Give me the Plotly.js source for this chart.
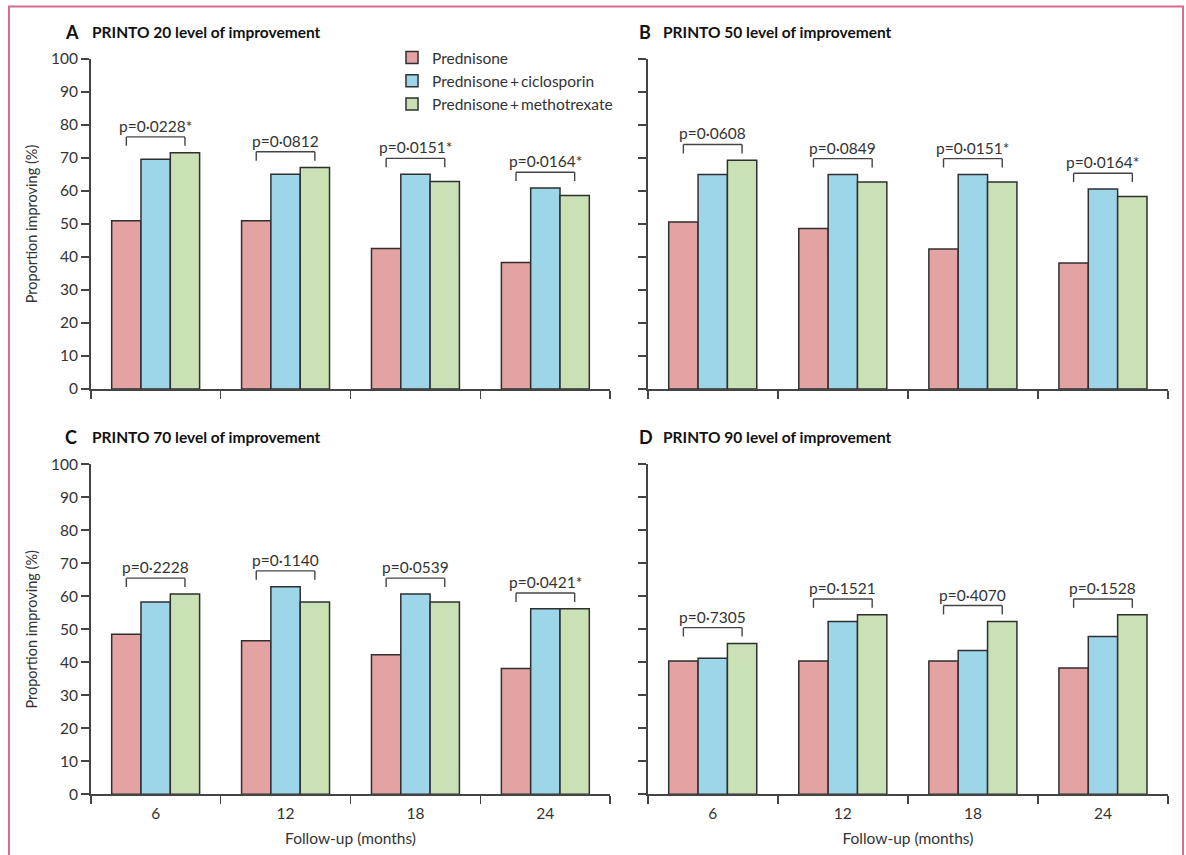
<!DOCTYPE html>
<html>
<head>
<meta charset="utf-8">
<script src="https://cdn.plot.ly/plotly-3.0.1.min.js"></script>
<style>html,body{margin:0;padding:0;background:#fff;}#chart{width:1186px;height:855px;}</style>
</head>
<body>
<div id="chart"></div>
<script>
// ---------- data ----------
const months = ['6', '12', '18', '24'];
const seriesNames = ['Prednisone', 'Prednisone\u2009+\u2009ciclosporin', 'Prednisone\u2009+\u2009methotrexate'];
const seriesColors = ['#e3a3a2', '#9ed6e9', '#c9e1b5'];

const panelLetters = ['A', 'B', 'C', 'D'];
const panelTitles = ['PRINTO 20 level of improvement', 'PRINTO 50 level of improvement',
                     'PRINTO 70 level of improvement', 'PRINTO 90 level of improvement'];

const A_prednisone   = [51.0, 51.0, 42.6, 38.3];
const A_ciclosporin  = [69.6, 65.1, 65.1, 60.9];
const A_methotrexate = [71.6, 67.1, 62.9, 58.6];
const A_pvalues = ['p=0·0228*', 'p=0·0812', 'p=0·0151*', 'p=0·0164*'];

const B_prednisone   = [50.6, 48.6, 42.4, 38.2];
const B_ciclosporin  = [65.0, 65.0, 65.0, 60.6];
const B_methotrexate = [69.3, 62.7, 62.7, 58.3];
const B_pvalues = ['p=0·0608', 'p=0·0849', 'p=0·0151*', 'p=0·0164*'];

const C_prednisone   = [48.5, 46.5, 42.3, 38.1];
const C_ciclosporin  = [58.3, 62.9, 60.7, 56.2];
const C_methotrexate = [60.7, 58.3, 58.3, 56.2];
const C_pvalues = ['p=0·2228', 'p=0·1140', 'p=0·0539', 'p=0·0421*'];

const D_prednisone   = [40.4, 40.4, 40.4, 38.3];
const D_ciclosporin  = [41.2, 52.4, 43.6, 47.8];
const D_methotrexate = [45.7, 54.4, 52.4, 54.4];
const D_pvalues = ['p=0·7305', 'p=0·1521', 'p=0·4070', 'p=0·1528'];

const yTicks = [0, 10, 20, 30, 40, 50, 60, 70, 80, 90, 100];

// ---------- layout helpers ----------
const W = 1186, H = 855;
const FONT = 'Lato, "Open Sans", sans-serif';
const TXT = '#333333';
const AXC = '#444444';
const FS = 15.5;

const panels = [
  {series: [A_prednisone, A_ciclosporin, A_methotrexate], p: A_pvalues, xpx: [90.7, 610.3], ypx: [59, 389],   letterX: 63,  titleX: 90,  ylab: true,  xlab: false},
  {series: [B_prednisone, B_ciclosporin, B_methotrexate], p: B_pvalues, xpx: [647.7, 1168], ypx: [59, 389],  letterX: 637, titleX: 661, ylab: false, xlab: false},
  {series: [C_prednisone, C_ciclosporin, C_methotrexate], p: C_pvalues, xpx: [90.7, 610.3], ypx: [464.3, 794.3], letterX: 63,  titleX: 90,  ylab: true,  xlab: true},
  {series: [D_prednisone, D_ciclosporin, D_methotrexate], p: D_pvalues, xpx: [647.7, 1168], ypx: [464.3, 794.3], letterX: 637, titleX: 661, ylab: false, xlab: true}
];

const traces = [];
const shapes = [];
const annotations = [];
const layout = {
  width: W, height: H,
  margin: {l: 0, r: 0, t: 0, b: 0},
  paper_bgcolor: '#ffffff', plot_bgcolor: 'rgba(0,0,0,0)',
  barmode: 'group', bargap: 0.323, bargroupgap: 0,
  font: {family: FONT, size: FS, color: TXT},
  showlegend: true,
  legend: {
    x: 392 / W, y: 1 - 41 / H, xanchor: 'left', yanchor: 'top',
    font: {family: FONT, size: FS, color: TXT},
    bgcolor: 'rgba(0,0,0,0)', tracegroupgap: 0, traceorder: 'normal'
  }
};

const groupHalf = (1 - 0.323) / 3; // centre offset of outer bars in category units

panels.forEach((pn, k) => {
  const sfx = k === 0 ? '' : String(k + 1);
  const xa = 'x' + sfx, ya = 'y' + sfx;
  pn.series.forEach((vals, s) => {
    traces.push({
      type: 'bar', x: months, y: vals, name: seriesNames[s],
      xaxis: xa, yaxis: ya,
      legendgroup: 'g' + s, showlegend: k === 0,
      marker: {color: seriesColors[s], line: {color: '#2f2f2f', width: 1.5}},
      hoverinfo: 'x+y+name'
    });
  });
  layout['xaxis' + sfx] = {
    domain: [pn.xpx[0] / W, pn.xpx[1] / W], anchor: ya,
    type: 'category', categoryorder: 'array', categoryarray: months,
    range: [-0.5, 3.5], tickson: 'boundaries',
    showline: true, linecolor: AXC, linewidth: 1.6,
    ticks: 'outside', ticklen: 8, tickwidth: 1.6, tickcolor: AXC,
    showticklabels: pn.xlab, showgrid: false, zeroline: false,
    ticklabelstandoff: 4,
    tickfont: {family: FONT, size: FS, color: TXT},
    title: pn.xlab ? {text: 'Follow-up (months)', font: {family: FONT, size: FS, color: TXT}, standoff: 12} : {text: ''},
    fixedrange: true
  };
  layout['yaxis' + sfx] = {
    domain: [1 - pn.ypx[1] / H, 1 - pn.ypx[0] / H], anchor: xa,
    range: [0, 100], tickmode: 'array', tickvals: yTicks,
    showline: true, linecolor: AXC, linewidth: 1.6,
    ticks: 'outside', ticklen: 8, tickwidth: 1.6, tickcolor: AXC,
    showticklabels: pn.ylab, showgrid: false, zeroline: false,
    tickfont: {family: FONT, size: FS, color: TXT},
    title: pn.ylab ? {text: 'Proportion improving (%)', font: {family: FONT, size: 14.5, color: TXT}, standoff: 10} : {text: ''},
    fixedrange: true
  };

  // panel titles
  const ty = 1 - (pn.ypx[0] - 27) / H;
  annotations.push({xref: 'paper', yref: 'paper', x: pn.letterX / W, y: ty, xanchor: 'left', yanchor: 'middle',
    text: '<b>' + panelLetters[k] + '</b>', showarrow: false, font: {family: FONT, size: 18, color: '#111'}});
  annotations.push({xref: 'paper', yref: 'paper', x: pn.titleX / W, y: ty, xanchor: 'left', yanchor: 'middle',
    text: '<b>' + panelTitles[k] + '</b>', showarrow: false, font: {family: FONT, size: 15.5, color: '#111'}});

  // p-value brackets
  months.forEach((m, i) => {
    const top = Math.max(pn.series[0][i], pn.series[1][i], pn.series[2][i]) + 4.8;
    const leg = top - 2.7;
    const x0 = i - groupHalf, x1 = i + groupHalf;
    const ln = {color: AXC, width: 1.4};
    shapes.push({type: 'line', xref: xa, yref: ya, x0: x0, x1: x1, y0: top, y1: top, line: ln});
    shapes.push({type: 'line', xref: xa, yref: ya, x0: x0, x1: x0, y0: top, y1: leg, line: ln});
    shapes.push({type: 'line', xref: xa, yref: ya, x0: x1, x1: x1, y0: top, y1: leg, line: ln});
    annotations.push({xref: xa, yref: ya, x: i, y: top, xanchor: 'center', yanchor: 'bottom', yshift: 0,
      text: pn.p[i], showarrow: false, font: {family: FONT, size: FS, color: TXT}});
  });
});

// pink frame
shapes.push({type: 'rect', xref: 'paper', yref: 'paper', x0: 9 / W, x1: 1183 / W, y0: -0.05, y1: 1 - 6.5 / H,
  line: {color: '#d86b8e', width: 2}, fillcolor: 'rgba(0,0,0,0)', layer: 'below'});

layout.shapes = shapes;
layout.annotations = annotations;

Plotly.newPlot('chart', traces, layout, {displayModeBar: false, staticPlot: true});
</script>
</body>
</html>
